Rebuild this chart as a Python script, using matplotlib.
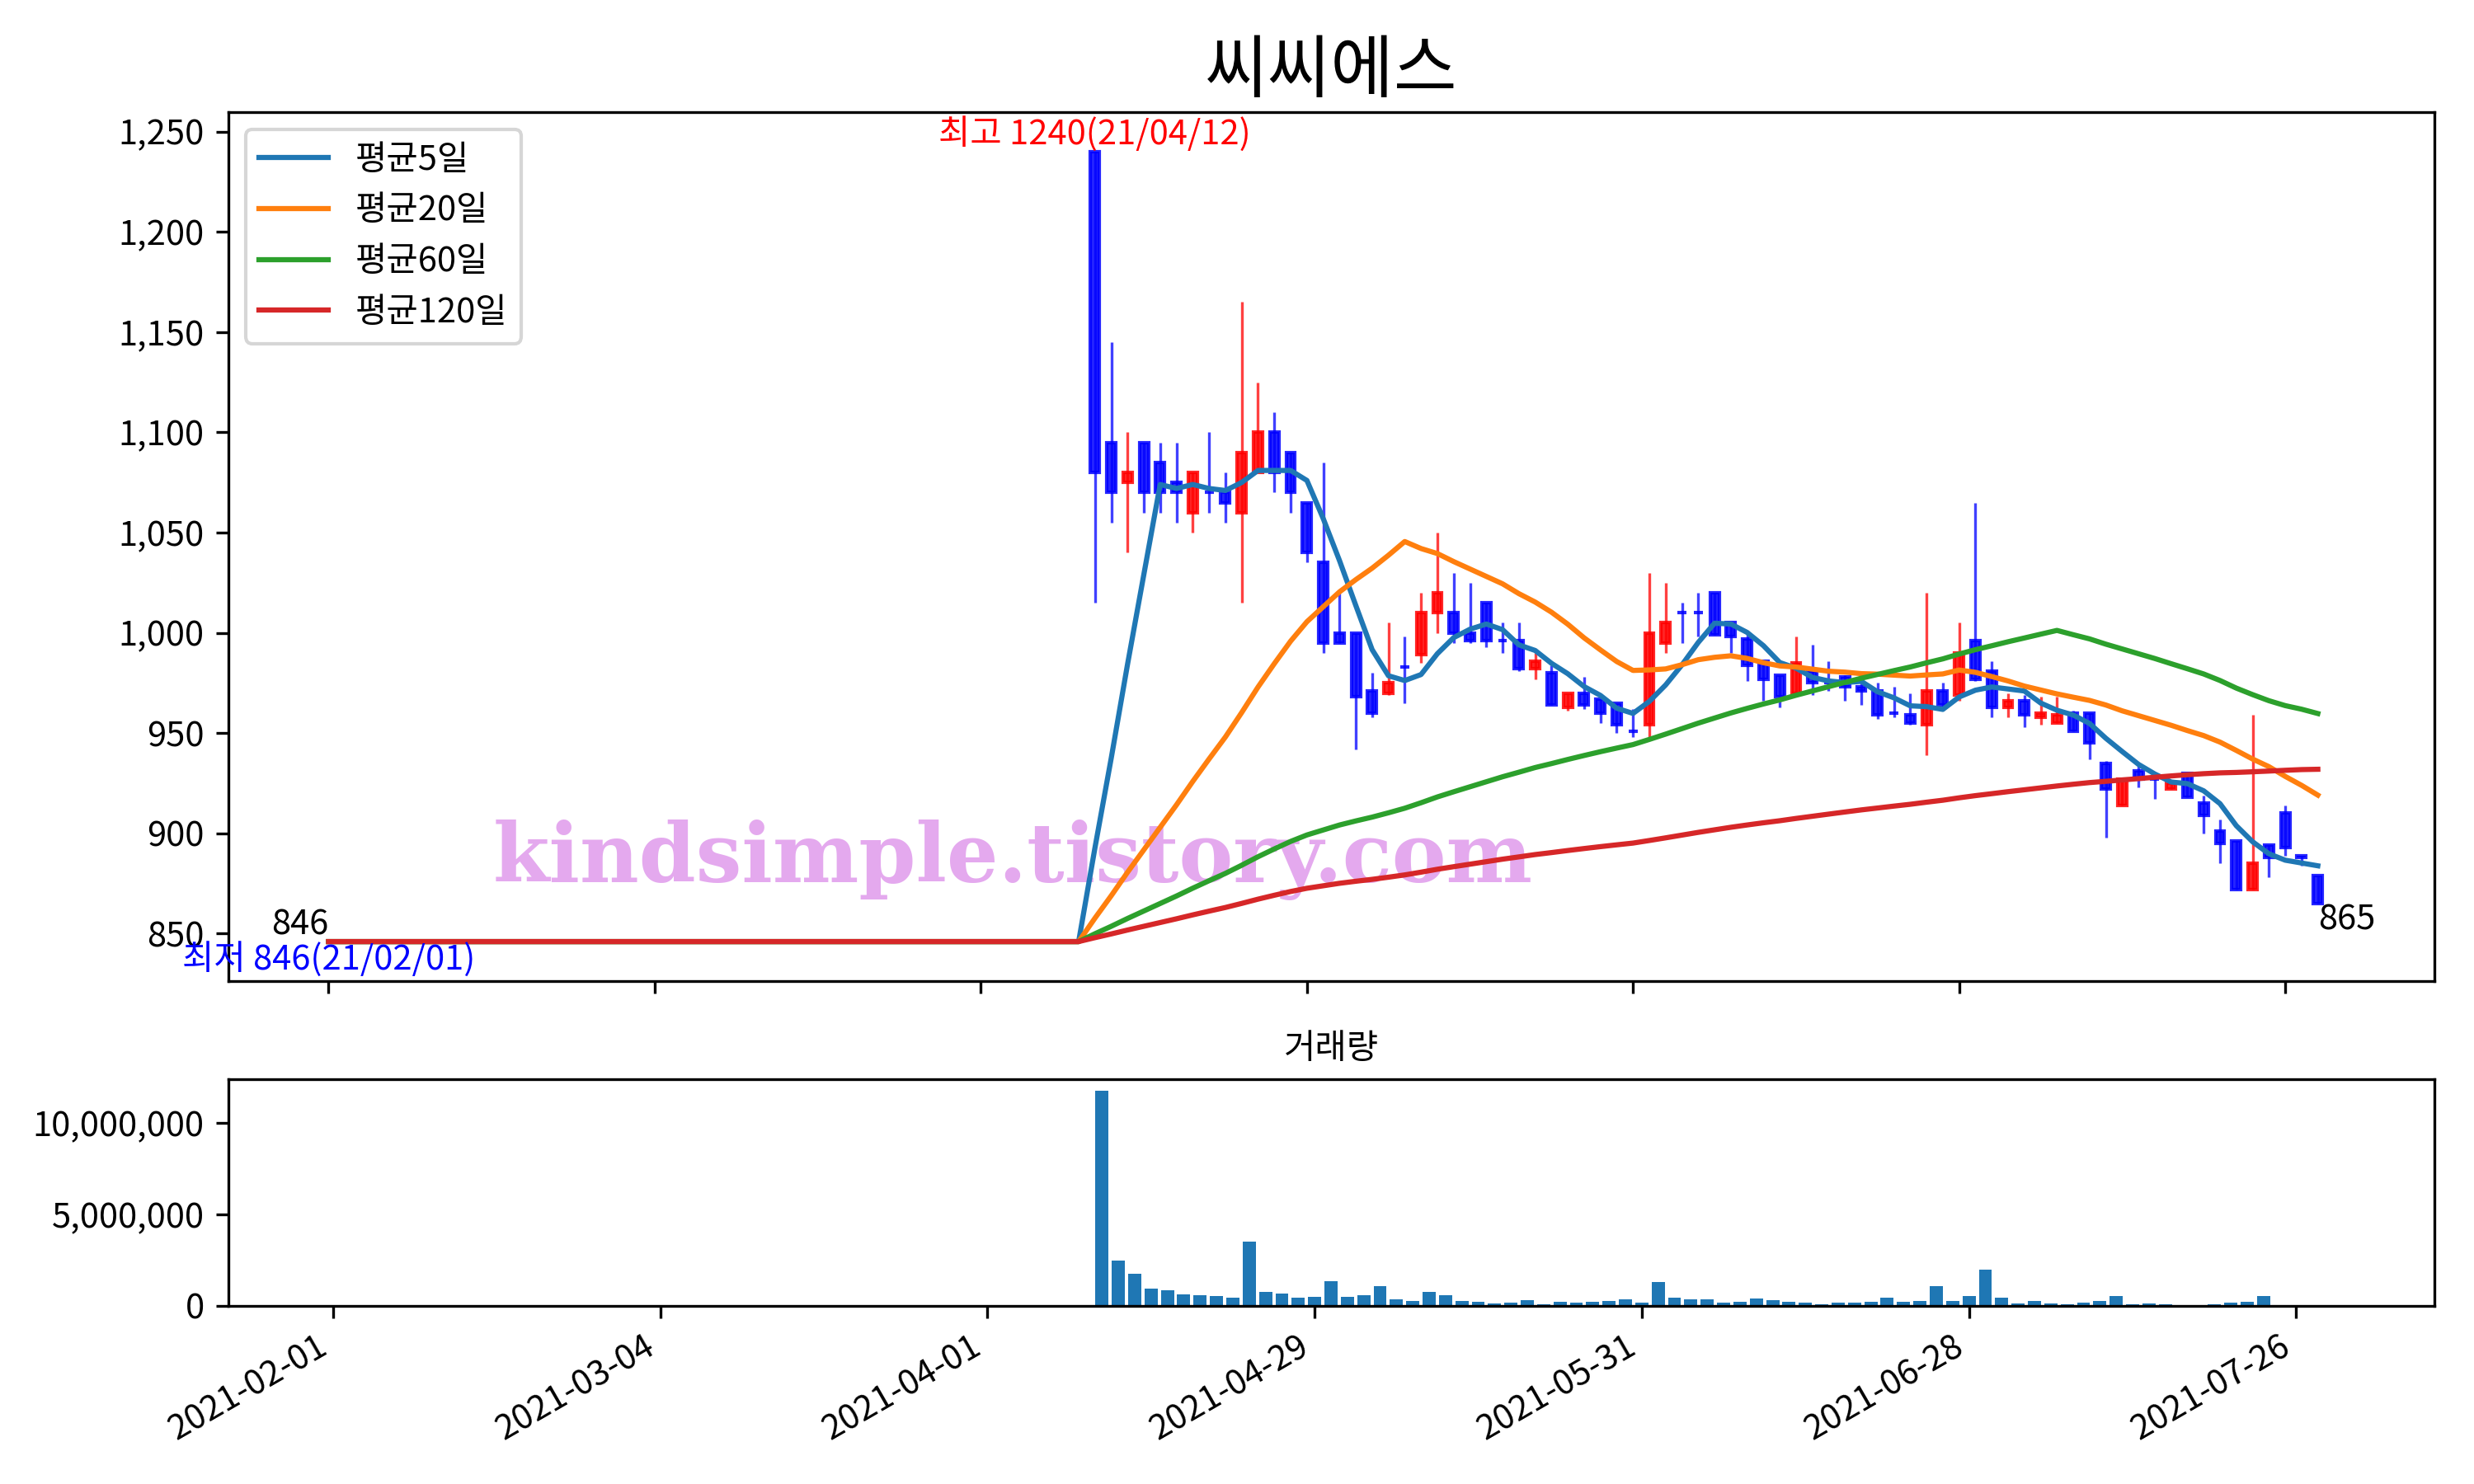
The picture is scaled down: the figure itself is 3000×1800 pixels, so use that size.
import numpy as np
import pandas as pd
import matplotlib
matplotlib.use('Agg')
import matplotlib.pyplot as plt
from matplotlib.ticker import FuncFormatter

plt.rcParams['font.family'] = ['Noto Sans CJK KR', 'DejaVu Sans']
plt.rcParams['axes.unicode_minus'] = False

title = '씨씨에스'
vol_title = '거래량'
holidays = ['2021-02-11', '2021-02-12', '2021-03-01', '2021-05-05', '2021-05-19']
dates = [d.strftime('%Y-%m-%d') for d in pd.bdate_range('2021-02-01', '2021-07-28')
         if d.strftime('%Y-%m-%d') not in holidays]
tick_labels = ['2021-02-01', '2021-03-04', '2021-04-01', '2021-04-29',
               '2021-05-31', '2021-06-28', '2021-07-26']

# trading halted (also before the shown window) until 2021-04-09: price flat at 846
halt_close = 846
halt_days = 47          # halted days shown in the window
pre_days = 119          # halted days before the window (used for moving averages)

# traded days 2021-04-12 .. 2021-07-28
opens = [1240, 1095, 1075, 1095, 1085, 1075, 1060, 1070, 1070, 1060,
         1080, 1100, 1090, 1065, 1035, 1000, 1000, 971, 970, 983,
         989, 1010, 1010, 1000, 1015, 996, 996, 982, 980, 963,
         970, 967, 965, 951, 954, 995, 1010, 1010, 1020, 1005,
         997, 986, 979, 970, 981, 975, 978, 973, 971, 960,
         959, 954, 971, 969, 996, 981, 963, 966, 958, 955,
         960, 960, 935, 914, 931, 927, 922, 930, 915, 901,
         896, 872, 894, 910, 889, 879]
highs = [1240, 1145, 1100, 1095, 1095, 1095, 1080, 1100, 1080, 1165,
         1125, 1110, 1090, 1065, 1085, 1020, 1000, 980, 1005, 998,
         1020, 1050, 1030, 1025, 1015, 1005, 1005, 990, 984, 970,
         978, 967, 965, 962, 1030, 1025, 1015, 1020, 1020, 1005,
         1000, 986, 979, 998, 994, 986, 979, 976, 975, 973,
         970, 1020, 975, 1005, 1065, 986, 970, 969, 968, 968,
         961, 960, 936, 928, 934, 930, 925, 930, 919, 907,
         896, 959, 894, 914, 889, 879]
lows = [1015, 1055, 1040, 1060, 1060, 1055, 1050, 1060, 1055, 1015,
        1080, 1070, 1060, 1035, 990, 995, 942, 958, 969, 965,
        985, 1000, 995, 995, 993, 990, 981, 977, 964, 961,
        962, 955, 950, 948, 948, 990, 995, 998, 999, 990,
        976, 966, 963, 970, 969, 971, 966, 964, 957, 958,
        954, 939, 963, 966, 976, 958, 958, 953, 954, 955,
        951, 937, 898, 914, 923, 917, 922, 918, 900, 885,
        872, 872, 878, 889, 884, 865]
closes = [1080, 1070, 1080, 1070, 1070, 1070, 1080, 1070, 1065, 1090,
          1100, 1080, 1070, 1040, 995, 995, 968, 960, 975, 983,
          1010, 1020, 1000, 996, 996, 996, 982, 986, 964, 970,
          964, 960, 954, 951, 1000, 1005, 1010, 1010, 999, 998,
          984, 977, 968, 985, 975, 975, 973, 971, 959, 960,
          955, 971, 964, 990, 977, 963, 966, 959, 960, 959,
          951, 945, 922, 927, 927, 927, 925, 918, 909, 895,
          872, 885, 888, 893, 888, 865]
volumes = [11760000, 2480000, 1760000, 950000, 860000, 630000, 590000, 540000, 450000, 3510000,
           770000, 680000, 450000, 500000, 1350000, 500000, 590000, 1080000, 360000, 270000,
           770000, 590000, 270000, 230000, 140000, 180000, 320000, 90000, 230000, 180000,
           230000, 270000, 360000, 180000, 1310000, 450000, 360000, 360000, 180000, 230000,
           410000, 320000, 230000, 180000, 90000, 180000, 180000, 230000, 450000, 230000,
           270000, 1080000, 270000, 540000, 1980000, 450000, 140000, 270000, 140000, 90000,
           180000, 270000, 540000, 90000, 140000, 90000, 20000, 20000, 90000, 180000,
           230000, 540000, 50000, 50000, 10000, 50000]

ma_windows = [5, 20, 60, 120]
ma_labels = ['평균5일', '평균20일', '평균60일', '평균120일']
ma_colors = ['tab:blue', 'tab:orange', 'tab:green', 'tab:red']

high_label = '최고 1240(21/04/12)'
low_label = '최저 846(21/02/01)'
watermark = 'kindsimple.tistory.com'

# ---------------------------------------------------------------
n = len(dates)
x_all = np.arange(n)
close_all = np.array([halt_close] * halt_days + closes, dtype=float)
close_ext = np.array([halt_close] * pre_days + list(close_all), dtype=float)
vol_all = np.array([0] * halt_days + volumes, dtype=float)
xt = np.arange(halt_days, n)
o = np.array(opens, float); h = np.array(highs, float)
l = np.array(lows, float); c = np.array(closes, float)
up = c > o
cols = np.where(up, 'red', 'blue')

fig = plt.figure(figsize=(10, 6), dpi=300)
ax = fig.add_axes([0.0923, 0.3389, 0.8917, 0.5855])
axv = fig.add_axes([0.0923, 0.12, 0.8917, 0.1528])

# candles
ax.vlines(xt, l, h, colors=cols, linewidth=0.8, alpha=0.75, zorder=1.5)
ax.bar(xt, c - o, bottom=o, width=0.55, color=cols, edgecolor=cols,
       linewidth=1.0, alpha=0.85, zorder=1.6)

# moving averages
s = pd.Series(close_ext)
for w, lab, col in zip(ma_windows, ma_labels, ma_colors):
    ma = s.rolling(w).mean().to_numpy()[pre_days:]
    ax.plot(x_all, ma, color=col, label=lab, linewidth=1.5, zorder=2)

ax.legend(loc='upper left', fontsize=10)
ax.set_title(title, fontsize=20)

imax = int(np.argmax(h)); imin = 0
ax.text(xt[imax], h[imax], high_label, color='red', ha='center', va='bottom', fontsize=10)
ax.text(imin, halt_close, low_label, color='blue', ha='center', va='top', fontsize=10)
ax.text(0, close_all[0], f'{int(close_all[0])}', color='black', ha='right', va='bottom', fontsize=10)
ax.text(n - 1, close_all[-1], f'{int(close_all[-1])}', color='black', ha='left', va='top', fontsize=10)

ax.text(0.3555, 0.1395, watermark, transform=ax.transAxes, fontsize=23.7,
        family='DejaVu Serif', fontweight='bold', color='#E4A9EE',
        ha='center', va='center', zorder=1)

tick_pos = [dates.index(t) for t in tick_labels]
ax.set_xlim(-6.15, 129.15)
ax.set_ylim(826.3, 1259.7)
ax.set_yticks(np.arange(850, 1251, 50))
ax.yaxis.set_major_formatter(FuncFormatter(lambda v, p: f'{v:,.0f}'))
ax.set_xticks(tick_pos)
ax.set_xticklabels([])

axv.bar(x_all, vol_all, width=0.8, color='tab:blue')
axv.set_xlim(-6.4, 128.45)
axv.set_ylim(0, 12.39e6)
axv.set_title(vol_title, fontsize=10)
axv.yaxis.set_major_formatter(FuncFormatter(lambda v, p: f'{v:,.0f}'))
axv.set_xticks(tick_pos)
axv.set_xticklabels(tick_labels, rotation=30, ha='right')

fig.savefig('out.png', dpi=300)
